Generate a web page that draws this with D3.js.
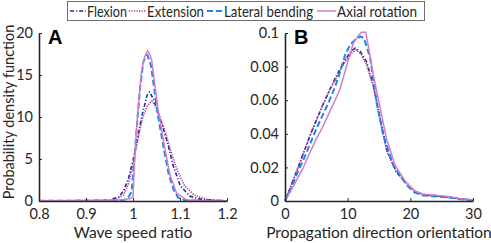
<!DOCTYPE html>
<html>
<head>
<meta charset="utf-8">
<script src="https://cdn.jsdelivr.net/npm/d3@7"></script>
<style>
  html, body { margin: 0; padding: 0; background: #fff; }
  svg { display: block; font-family: Lato, "Open Sans", sans-serif; }
</style>
</head>
<body>
<svg id="chart" width="491" height="243"></svg>
<script>
// --- Data ---
const seriesNames = ["Flexion", "Extension", "Lateral bending", "Axial rotation"];

// Panel A: wave speed ratio
const flexA_x = [0.8, 0.85, 0.9, 0.95, 0.97, 0.98, 0.99, 1.0, 1.01, 1.02, 1.03, 1.035, 1.045, 1.055, 1.065, 1.075, 1.085, 1.1, 1.12, 1.14, 1.17, 1.2];
const flexA_y = [0.02, 0.03, 0.05, 0.1, 0.5, 1.2, 2.6, 4.8, 7.6, 10.4, 12.6, 13.0, 12.0, 10.2, 8.5, 6.6, 4.3, 1.9, 0.6, 0.25, 0.08, 0.02];
const extA_x = [0.8, 0.9, 0.95, 0.96, 0.98, 0.99, 1.0, 1.01, 1.02, 1.03, 1.04, 1.05, 1.06, 1.07, 1.08, 1.09, 1.1, 1.11, 1.13, 1.16, 1.19, 1.2];
const extA_y = [0.02, 0.04, 0.06, 0.1, 0.7, 2.0, 4.3, 7.2, 9.8, 11.3, 11.9, 11.1, 9.6, 8.0, 6.0, 4.3, 2.9, 1.8, 0.7, 0.15, 0.05, 0.03];
const latA_x = [0.8, 0.9, 0.95, 0.98, 0.99, 0.997, 1.0007, 1.008, 1.015, 1.022, 1.0305, 1.038, 1.045, 1.052, 1.06, 1.068, 1.076, 1.086, 1.096, 1.11, 1.15, 1.2];
const latA_y = [0.02, 0.03, 0.04, 0.1, 0.4, 1.1, 3.5, 8.7, 13.4, 16.6, 17.4, 16.2, 13.5, 10.5, 8.0, 5.5, 3.2, 1.4, 0.4, 0.1, 0.03, 0.01];
const axA_x = [0.8, 0.9, 0.95, 0.98, 0.995, 1.0, 1.004, 1.01, 1.018, 1.025, 1.031, 1.037, 1.04, 1.046, 1.053, 1.06, 1.068, 1.079, 1.093, 1.114, 1.15, 1.2];
const axA_y = [0.03, 0.05, 0.08, 0.15, 0.3, 0.5, 5.5, 10.6, 15.4, 17.2, 17.9, 17.3, 16.7, 14.0, 11.0, 8.8, 6.2, 3.0, 0.9, 0.12, 0.03, 0.01];

// Panel B: propagation direction orientation
const flexB_x = [0, 1, 2, 3, 4, 5, 6, 7, 8, 9, 9.8, 10.5, 11.2, 12, 13, 14.1, 15.2, 16.2, 17.8, 19.4, 20.7, 22.1, 24, 26.3, 28, 30];
const flexB_y = [0, 0.0095, 0.019, 0.029, 0.039, 0.048, 0.057, 0.065, 0.073, 0.080, 0.085, 0.089, 0.091, 0.089, 0.083, 0.069, 0.049, 0.031, 0.017, 0.0105, 0.0055, 0.0036, 0.003, 0.0022, 0.0012, 0.0006];
const extB_x = [0, 1, 2, 3, 4, 5, 6, 7, 8, 9, 9.8, 10.6, 11.4, 12.2, 13, 14.1, 15.2, 16.2, 17.8, 19.4, 20.7, 22.1, 24, 26.3, 28, 30];
const extB_y = [0, 0.0095, 0.019, 0.029, 0.039, 0.048, 0.057, 0.065, 0.072, 0.079, 0.084, 0.088, 0.090, 0.087, 0.081, 0.068, 0.048, 0.030, 0.017, 0.011, 0.006, 0.004, 0.0032, 0.0024, 0.0013, 0.0006];
const latB_x = [0, 1, 2, 3, 4, 5, 6, 7, 8, 8.8, 9.6, 10.4, 11.2, 12, 12.6, 13.6, 14.6, 15.7, 17.3, 18.4, 19.4, 20.7, 22.1, 24, 26.3, 28, 30];
const latB_y = [0, 0.008, 0.017, 0.025, 0.034, 0.043, 0.051, 0.059, 0.068, 0.077, 0.087, 0.093, 0.096, 0.098, 0.097, 0.085, 0.059, 0.039, 0.021, 0.015, 0.0095, 0.005, 0.0033, 0.0027, 0.002, 0.001, 0.0004];
const axB_x = [0, 1, 2, 3, 4, 5, 6, 7, 8, 8.8, 9.8, 10.9, 11.6, 12.2, 12.9, 13.4, 14.1, 15.2, 16.2, 17.6, 19.4, 20.7, 22.1, 24, 26.3, 28, 30];
const axB_y = [0, 0.0065, 0.0135, 0.0205, 0.029, 0.037, 0.044, 0.052, 0.060, 0.067, 0.080, 0.094, 0.098, 0.1004, 0.1004, 0.090, 0.075, 0.055, 0.037, 0.021, 0.0105, 0.006, 0.004, 0.0035, 0.0025, 0.0014, 0.0008];

const ticksAx = [0.8, 0.9, 1.0, 1.1, 1.2];
const ticksAy = [0, 5, 10, 15, 20];
const ticksBx = [0, 10, 20, 30];
const ticksBy = [0, 0.02, 0.04, 0.06, 0.08, 0.1];

// --- Styles per series ---
const styles = [
  { color: "#27279a", dash: "4,2,1.2,2", width: 1.6 },
  { color: "#a3328f", dash: "1.2,1.3", width: 1.5 },
  { color: "#1a86ee", dash: "6,3", width: 2 },
  { color: "#d47cc9", dash: null, width: 1.5 }
];

const svg = d3.select("#chart");
const axisColor = "#262626";

function zip(xs, ys) { return xs.map((x, i) => ({ x, y: ys[i] })); }

function drawPanel(opts) {
  const { left, right, top, bottom, xDomain, yDomain, xTicks, yTicks, xFmt, yFmt, series, xLabel, letter } = opts;
  const x = d3.scaleLinear().domain(xDomain).range([left, right]);
  const y = d3.scaleLinear().domain(yDomain).range([bottom, top]);
  const g = svg.append("g");

  // Curves
  const line = d3.line().x(d => x(d.x)).y(d => y(d.y));
  series.forEach((s, i) => {
    const st = styles[i];
    g.append("path")
      .datum(s)
      .attr("fill", "none")
      .attr("stroke", st.color)
      .attr("stroke-width", st.width)
      .attr("stroke-dasharray", st.dash)
      .attr("stroke-linejoin", "round")
      .attr("d", line);
  });

  // Axes (ticks pointing inward, like MATLAB)
  const xAxis = g.append("g")
    .attr("transform", `translate(0,${bottom})`)
    .call(d3.axisBottom(x).tickValues(xTicks).tickFormat(xFmt).tickSizeInner(-3).tickSizeOuter(0).tickPadding(8));
  const yAxis = g.append("g")
    .attr("transform", `translate(${left},0)`)
    .call(d3.axisLeft(y).tickValues(yTicks).tickFormat(yFmt).tickSizeInner(-3).tickSizeOuter(0).tickPadding(6));
  [xAxis, yAxis].forEach(a => {
    a.select(".domain").attr("stroke", axisColor).attr("stroke-width", 1.6);
    a.selectAll(".tick line").attr("stroke", axisColor).attr("stroke-width", 1);
    a.selectAll(".tick text").attr("fill", axisColor).attr("font-size", 14.5).attr("font-family", "Lato, sans-serif");
  });

  // Axis title
  g.append("text")
    .attr("x", (left + right) / 2)
    .attr("y", 238)
    .attr("text-anchor", "middle")
    .attr("font-size", 15.5)
    .attr("fill", axisColor)
    .text(xLabel);

  // Panel letter
  g.append("text")
    .attr("x", left + 9)
    .attr("y", top + 11)
    .attr("font-size", 20)
    .attr("font-weight", "bold")
    .attr("font-family", "Liberation Sans, Arial, sans-serif")
    .attr("fill", "#000")
    .text(letter);
}

drawPanel({
  left: 39, right: 227, top: 33, bottom: 201,
  xDomain: [0.8, 1.2], yDomain: [0, 20],
  xTicks: ticksAx, yTicks: ticksAy,
  xFmt: d => d === 1 ? "1" : d3.format(".1f")(d),
  yFmt: d3.format("d"),
  series: [zip(flexA_x, flexA_y), zip(extA_x, extA_y), zip(latA_x, latA_y), zip(axA_x, axA_y)],
  xLabel: "Wave speed ratio", letter: "A"
});

drawPanel({
  left: 285, right: 473, top: 33, bottom: 201,
  xDomain: [0, 30], yDomain: [0, 0.1],
  xTicks: ticksBx, yTicks: ticksBy,
  xFmt: d3.format("d"),
  yFmt: d => d === 0 ? "0" : String(+d.toFixed(2)),
  series: [zip(flexB_x, flexB_y), zip(extB_x, extB_y), zip(latB_x, latB_y), zip(axB_x, axB_y)],
  xLabel: "Propagation direction orientation", letter: "B"
});

// Y axis title (panel A)
svg.append("text")
  .attr("transform", "translate(14,112) rotate(-90)")
  .attr("text-anchor", "middle")
  .attr("font-size", 14.5)
  .attr("fill", axisColor)
  .text("Probability density function");

// --- Legend ---
const legend = svg.append("g");
legend.append("rect")
  .attr("x", 67.5).attr("y", 1.5).attr("width", 357).attr("height", 19)
  .attr("fill", "#fff").attr("stroke", "#6e6e6e").attr("stroke-width", 1);
const legendSampleX = [70, 129, 207, 317];
const legendTextX = [87, 147, 224, 337];
const legendTextW = [40, 57, 89, 80];
seriesNames.forEach((name, i) => {
  const st = styles[i];
  legend.append("line")
    .attr("x1", legendSampleX[i]).attr("x2", legendTextX[i] - 1)
    .attr("y1", 11).attr("y2", 11)
    .attr("stroke", st.color)
    .attr("stroke-width", st.width)
    .attr("stroke-dasharray", st.dash);
  legend.append("text")
    .attr("x", legendTextX[i]).attr("y", 16.5)
    .attr("font-size", 16)
    .attr("fill", axisColor)
    .attr("textLength", legendTextW[i])
    .attr("lengthAdjust", "spacingAndGlyphs")
    .text(name);
});
</script>
</body>
</html>
